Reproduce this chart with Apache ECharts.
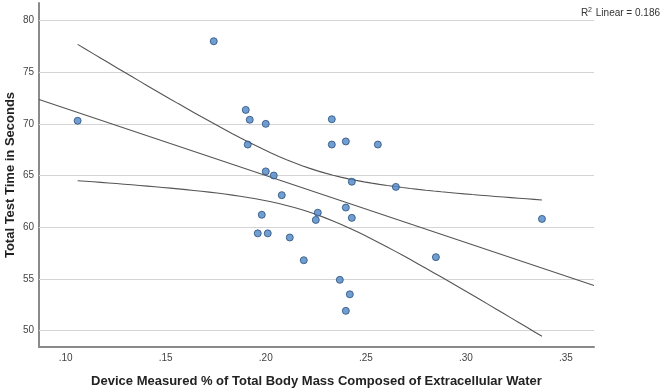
<!DOCTYPE html>
<html>
<head>
<meta charset="utf-8">
<script src="https://cdn.jsdelivr.net/npm/echarts@6/dist/echarts.min.js"></script>
<style>
  html, body { margin: 0; padding: 0; background: #fff; }
  #scatter_fit { width: 666px; height: 390px; }
</style>
</head>
<body>
<div id="scatter_fit"></div>
<script>
// ECW share of body mass vs total test time (seconds)
var ecwValues = [0.106, 0.174, 0.190, 0.192, 0.233, 0.200, 0.191, 0.233, 0.240, 0.256,
                 0.200, 0.204, 0.243, 0.265, 0.208, 0.240, 0.198, 0.226, 0.225, 0.243,
                 0.338, 0.196, 0.201, 0.212, 0.219, 0.285, 0.237, 0.242, 0.240];
var timeValues = [70.3, 78.0, 71.35, 70.4, 70.45, 70.0, 68.0, 68.0, 68.3, 68.0,
                  65.4, 65.0, 64.4, 63.9, 63.1, 61.9, 61.2, 61.4, 60.7, 60.9,
                  60.8, 59.4, 59.4, 59.0, 56.8, 57.1, 54.9, 53.5, 51.9];
var xTicks = [0.10, 0.15, 0.20, 0.25, 0.30, 0.35];
var yTicks = [50, 55, 60, 65, 70, 75, 80];
var r2Text = '0.186';

var xMin = 0.0867, xMax = 0.364;

// least squares fit + 95% CI of the mean
var n = ecwValues.length;
var mx = 0, my = 0;
for (var i = 0; i < n; i++) { mx += ecwValues[i]; my += timeValues[i]; }
mx /= n; my /= n;
var sxx = 0, sxy = 0;
for (var i = 0; i < n; i++) {
    sxx += (ecwValues[i] - mx) * (ecwValues[i] - mx);
    sxy += (ecwValues[i] - mx) * (timeValues[i] - my);
}
var slope = sxy / sxx;
var icpt = my - slope * mx;
var sse = 0;
for (var i = 0; i < n; i++) {
    var r = timeValues[i] - (icpt + slope * ecwValues[i]);
    sse += r * r;
}
var se = Math.sqrt(sse / (n - 2));
var tCrit = 2.052;
var dataMin = Math.min.apply(null, ecwValues), dataMax = Math.max.apply(null, ecwValues);
var upper = [], lower = [];
for (var k = 0; k <= 60; k++) {
    var x = dataMin + (dataMax - dataMin) * k / 60;
    var yh = icpt + slope * x;
    var h = tCrit * se * Math.sqrt(1 / n + (x - mx) * (x - mx) / sxx);
    upper.push([x, yh + h]);
    lower.push([x, yh - h]);
}
var fitLine = [[xMin, icpt + slope * xMin], [xMax, icpt + slope * xMax]];

var points = ecwValues.map(function (v, i) { return [v, timeValues[i]]; });

var scatter_fit = echarts.init(document.getElementById('scatter_fit'));
var lineStyle = { color: '#555', width: 1.1 };
var option = {
    animation: false,
    textStyle: { fontFamily: 'Liberation Sans Narrow, Liberation Sans, sans-serif' },
    grid: { left: 39, right: 72, top: 3, bottom: 43, outerBoundsMode: 'none' },
    graphic: [{
        type: 'text',
        right: 6,
        top: 7,
        style: {
            text: 'R{sup|2} Linear = ' + r2Text,
            font: '10px Liberation Sans Narrow, Liberation Sans, sans-serif',
            fill: '#333',
            rich: {
                sup: { fontSize: 7, verticalAlign: 'top', padding: [0, 1, 5, 0], fill: '#333' }
            }
        }
    }],
    xAxis: {
        type: 'value',
        min: xMin,
        max: xMax,
        name: 'Device Measured % of Total Body Mass Composed of Extracellular Water',
        nameLocation: 'middle',
        nameGap: 28,
        nameMoveOverlap: false,
        nameTextStyle: { fontFamily: 'Liberation Sans, sans-serif', fontWeight: 'bold', fontSize: 13, color: '#222' },
        axisLine: { lineStyle: { color: '#8a8a8a', width: 2 } },
        axisTick: { show: false },
        splitLine: { show: false },
        axisLabel: {
            customValues: xTicks,
            fontSize: 10,
            color: '#444',
            margin: 6,
            formatter: function (v) { return v.toFixed(2).replace(/^0/, ''); }
        }
    },
    yAxis: {
        type: 'value',
        min: 48.4,
        max: 81.7,
        name: 'Total Test Time in Seconds',
        nameLocation: 'middle',
        nameGap: 22,
        nameMoveOverlap: false,
        nameTextStyle: { fontFamily: 'Liberation Sans, sans-serif', fontWeight: 'bold', fontSize: 13, color: '#222' },
        axisLine: { show: true, lineStyle: { color: '#8a8a8a', width: 2 } },
        axisTick: { show: false },
        splitLine: { show: false },
        axisLabel: {
            customValues: yTicks,
            fontSize: 10,
            color: '#444',
            margin: 5
        }
    },
    series: [
        {
            type: 'line',
            data: fitLine,
            symbol: 'none',
            lineStyle: lineStyle,
            silent: true,
            z: 3,
            markLine: {
                silent: true,
                symbol: 'none',
                label: { show: false },
                lineStyle: { color: '#d4d4d4', width: 1.2, type: 'solid' },
                data: yTicks.map(function (t) { return { yAxis: t }; }),
                z: 1
            }
        },
        { type: 'line', data: upper, symbol: 'none', smooth: false, lineStyle: lineStyle, silent: true, z: 3 },
        { type: 'line', data: lower, symbol: 'none', smooth: false, lineStyle: lineStyle, silent: true, z: 3 },
        {
            type: 'scatter',
            data: points,
            symbolSize: 7,
            itemStyle: { color: '#4d86c6', borderColor: '#284e7c', borderWidth: 1 },
            z: 5
        }
    ]
};
scatter_fit.setOption(option);

window.addEventListener('resize', function () {
    scatter_fit.resize();
});
</script>
</body>
</html>
